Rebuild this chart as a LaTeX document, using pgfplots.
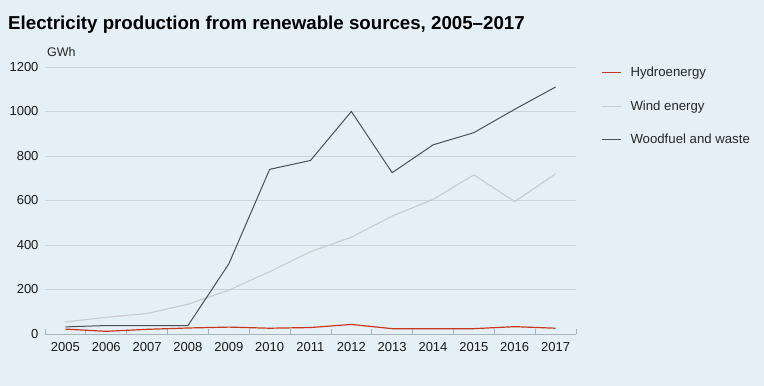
\documentclass[border=0pt]{standalone}
\usepackage{fontspec}
\setmainfont{Liberation Sans}
\usepackage{pgfplots}
\pgfplotsset{compat=1.18}
\definecolor{bg}{HTML}{E5F0F6}
\definecolor{gridc}{HTML}{C9D5DD}
\definecolor{hydro}{HTML}{C8381E}
\definecolor{wind}{HTML}{C9CDD0}
\definecolor{wood}{HTML}{4A4F53}
\definecolor{axisc}{HTML}{A8B4BC}
\begin{document}
\begin{tikzpicture}[x=1pt,y=1pt]
\fill[bg] (0,0) rectangle (764,386);
\node[anchor=base west,font=\fontsize{18.7}{20}\selectfont\bfseries,inner sep=0] at (8,356) {Electricity production from renewable sources, 2005–2017};
\node[anchor=base west,font=\fontsize{12.5}{14}\selectfont,inner sep=0,text=black!85] at (47,329) {GWh};
\begin{axis}[
  at={(45pt,52pt)}, anchor=south west,
  scale only axis, width=531pt, height=267pt,
  xmin=2004.5, xmax=2017.5, ymin=0, ymax=1200,
  xtick={2005,...,2017},
  minor xtick={2004.5,2005.5,...,2017.5},
  ytick={0,200,...,1200},
  major x tick style={draw=none},
  minor x tick style={draw=axisc, line width=0.8pt},
  minor tick length=5pt,
  ytick style={draw=none},
  axis x line*=bottom, axis y line*=left,
  x axis line style={draw=axisc, line width=0.8pt},
  y axis line style={draw=none},
  ymajorgrids, major grid style={draw=gridc, line width=0.8pt},
  tick label style={font=\fontsize{13}{15}\selectfont, text=black!90},
  /pgf/number format/assume math mode=true,
  xticklabel style={/pgf/number format/1000 sep={}},
  yticklabel style={/pgf/number format/1000 sep={}},
  yticklabel shift=3pt,
  xticklabel shift=5pt,
  clip=false,
  legend cell align=left,
  legend style={at={(1,1)}, anchor=north west, xshift=22pt, yshift=4pt, draw=none, fill=none,
    font=\fontsize{13.2}{15}\selectfont, text=black!85, row sep=18.5pt,
    /tikz/every odd column/.append style={column sep=7pt}},
  legend image code/.code={\draw[#1] (0pt,0pt) -- (19pt,0pt);},
]
\addlegendimage{hydro, line width=1.3pt}
\addlegendentry{Hydroenergy}
\addlegendimage{wind, line width=1.3pt}
\addlegendentry{Wind energy}
\addlegendimage{wood, line width=1.1pt}
\addlegendentry{Woodfuel and waste}
\addplot[wind, line width=1.2pt, forget plot] coordinates {
(2005,54) (2006,75) (2007,92) (2008,134) (2009,197) (2010,280) (2011,370) (2012,435) (2013,530) (2014,605) (2015,715) (2016,595) (2017,720)};
\addplot[wood, line width=1pt, forget plot] coordinates {
(2005,32) (2006,38) (2007,38) (2008,38) (2009,315) (2010,740) (2011,780) (2012,1000) (2013,725) (2014,850) (2015,905) (2016,1010) (2017,1110)};
\addplot[hydro, line width=1.2pt, forget plot] coordinates {
(2005,22) (2006,12) (2007,21) (2008,27) (2009,31) (2010,26) (2011,29) (2012,43) (2013,24) (2014,24) (2015,24) (2016,33) (2017,26)};
\end{axis}
\end{tikzpicture}
\end{document}
